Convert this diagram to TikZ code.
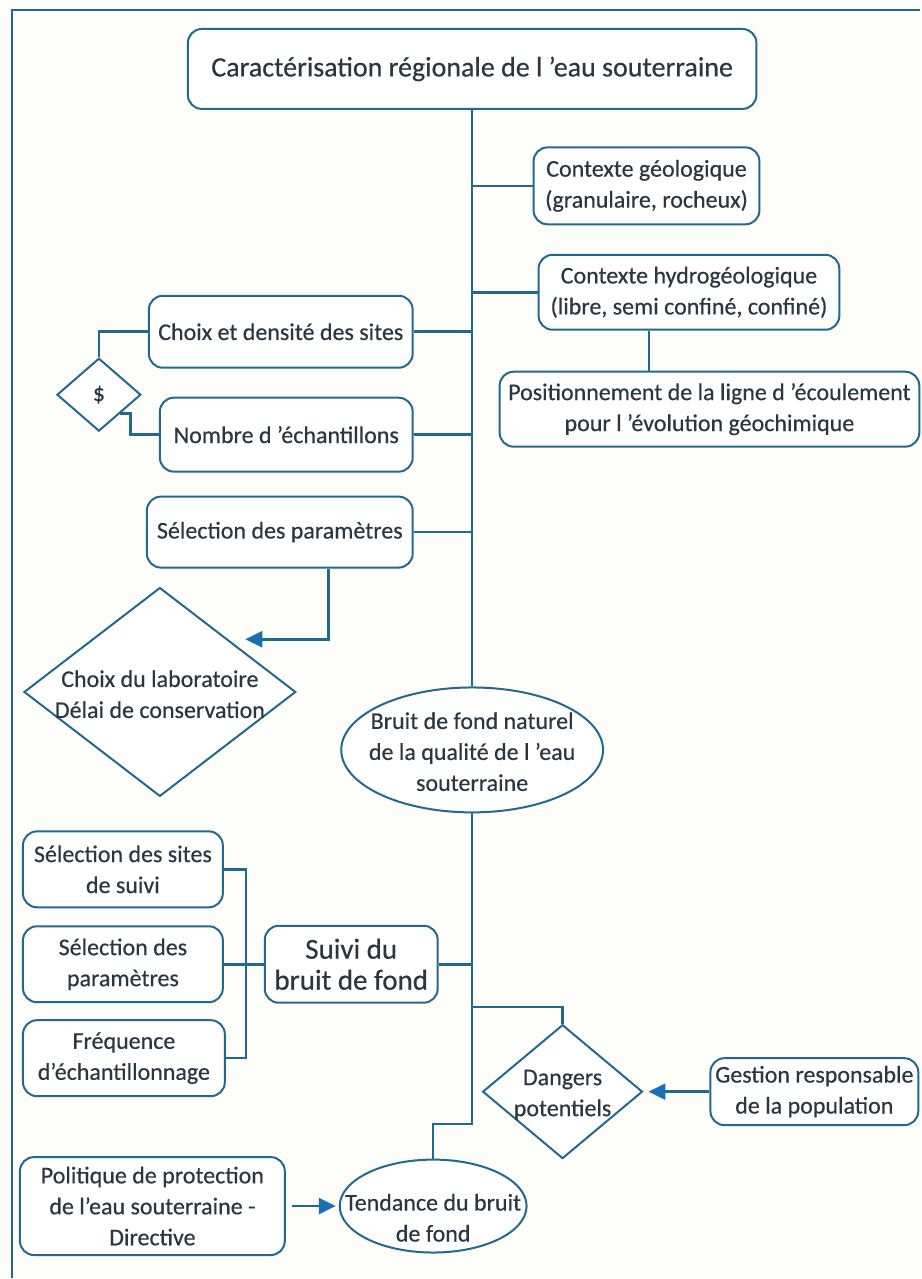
\documentclass[tikz,border=0pt]{standalone}
\usepackage{fontspec}
\setmainfont{Carlito}[FakeBold=0.4]
\usetikzlibrary{shapes.geometric,arrows.meta}
\definecolor{linkblue}{RGB}{35,105,140}
\definecolor{tipblue}{RGB}{25,110,180}
\definecolor{inkgray}{RGB}{42,55,64}
\definecolor{paper}{RGB}{253,253,249}
\newcommand\flatlbl[2][-10pt]{\makebox[0pt]{\smash{\raisebox{#1}{\begin{tabular}{@{}c@{}}#2\end{tabular}}}}}
\begin{document}
\begin{tikzpicture}[x=1pt, y=-1pt,
    box/.style={draw=linkblue, line width=2pt, rounded corners=14pt, fill=white, text=inkgray,
      align=center, inner sep=2pt, font=\fontsize{24}{31}\selectfont},
    rhomb/.style={diamond, draw=linkblue, line width=2pt, fill=white, text=inkgray,
      inner sep=0pt, font=\fontsize{24}{31}\selectfont},
    oval/.style={ellipse, draw=linkblue, line width=2pt, fill=white, text=inkgray,
      inner sep=0pt, font=\fontsize{24}{31}\selectfont},
    link/.style={draw=linkblue, line width=2.5pt},
    flow/.style={link, -{Triangle[length=17pt,width=16pt,color=tipblue]}}
  ]
  \fill[paper] (0,0) rectangle (921,1279);
  \draw[linkblue, line width=2pt] (12,1279) -- (12,10) -- (921,10);

  \node[box, minimum width=569pt, minimum height=80pt, font=\fontsize{28}{31}\selectfont] (title) at (472.5,69)
    {Caractérisation régionale de l ’eau souterraine};
  \node[box, minimum width=226pt, minimum height=77pt] (geo) at (647,186)
    {Contexte géologique\\(granulaire, rocheux)};
  \node[box, minimum width=301pt, minimum height=75pt] (hydro) at (689.5,292.5)
    {Contexte hydrogéologique\\(libre, semi confiné, confiné)};
  \node[box, minimum width=420pt, minimum height=75pt] (pos) at (710,409.5)
    {Positionnement de la ligne d ’écoulement\\pour l ’évolution géochimique};
  \node[box, minimum width=264pt, minimum height=72pt] (choix) at (281,332)
    {Choix et densité des sites};
  \node[box, minimum width=253pt, minimum height=74pt] (nombre) at (286.5,435)
    {Nombre d ’échantillons};
  \node[box, minimum width=266pt, minimum height=71pt] (param) at (280,532.5)
    {Sélection des paramètres};
  \node[rhomb, minimum width=84pt, minimum height=73pt] (dollar) at (99,395) {\$};
  \node[rhomb, minimum width=272pt, minimum height=209pt] (lab) at (160,692.5)
    {\flatlbl[-10.5pt]{Choix du laboratoire\\Délai de conservation}};
  \node[oval, minimum width=262pt, minimum height=125pt] (bruit) at (472.5,750.5)
    {\flatlbl{Bruit de fond naturel\\de la qualité de l ’eau\\souterraine}};
  \node[box, minimum width=200pt, minimum height=76pt] (sites) at (123,870)
    {Sélection des sites\\de suivi};
  \node[box, minimum width=200pt, minimum height=76pt] (parm2) at (123,965)
    {Sélection des\\paramètres};
  \node[box, minimum width=202pt, minimum height=76pt] (freq) at (124,1059)
    {Fréquence\\d’échantillonnage};
  \node[box, minimum width=173pt, minimum height=77pt, font=\fontsize{29}{31}\selectfont] (suivi) at (351.5,965)
    {Suivi du\\bruit de fond};
  \node[rhomb, minimum width=160pt, minimum height=134pt] (dang) at (563,1092.5)
    {\flatlbl[-9pt]{Dangers\\potentiels}};
  \node[box, minimum width=208pt, minimum height=67pt] (gest) at (815,1092.5)
    {Gestion responsable\\de la population};
  \node[box, minimum width=265pt, minimum height=98pt] (pol) at (152.5,1207)
    {Politique de protection\\de l’eau souterraine -\\Directive};
  \node[oval, minimum width=187pt, minimum height=93pt] (tend) at (433.5,1207)
    {\flatlbl[-20pt]{Tendance du bruit\\de fond}};

  \coordinate (fork) at (472.5,1008);
  \coordinate (jog) at (472.5,1125);

  \draw[link] (title) -- (bruit);
  \foreach \n in {geo,hydro,choix,nombre,param,suivi}
    \draw[link] (\n) -- (\n -| title.south);
  \draw[link] ([xshift=-40pt]hydro.south) -- ([xshift=-40pt]hydro.south |- pos.north);
  \draw[link] (choix.west) -| (dollar.north);
  \draw[link] (dollar.south east) -- ++(10,0) |- (nombre.west);
  \draw[flow, shorten >=17pt] ([xshift=49pt]param.south) |- (lab.north east);
  \draw[link] (sites.east) -- ++(22,0) |- (freq.east);
  \draw[link] (parm2) -- (suivi);
  \draw[link] (bruit.south) -- (jog) -| (tend.north);
  \draw[link] (fork) -| (dang.north);
  \draw[flow, shorten >=5pt] (gest) -- (dang);
  \draw[flow, shorten <=6pt, shorten >=3pt] (pol) -- (tend);
\end{tikzpicture}
\end{document}
